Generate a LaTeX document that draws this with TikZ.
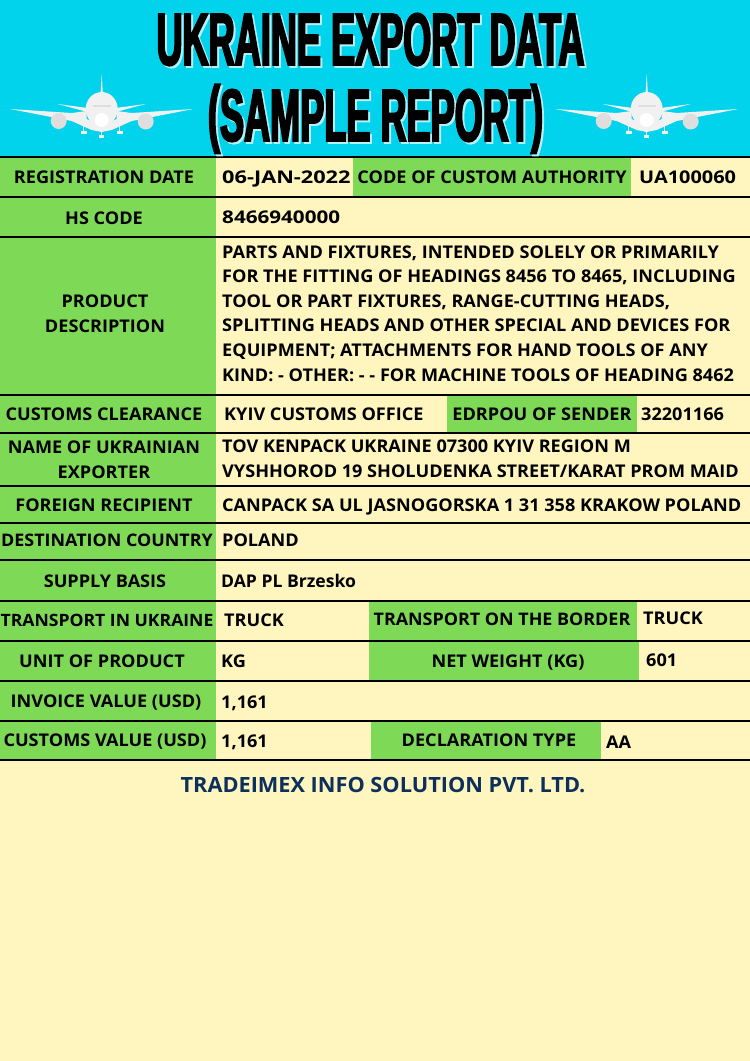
\documentclass[tikz,border=0pt]{standalone}
\usepackage{fontspec}
\setmainfont{Open Sans}[FakeStretch=1.035]
\newfontfamily\titlefont{Liberation Sans Bold}[FakeStretch=0.488,FakeBold=2.4]
\usepackage{xcolor}
\definecolor{skybg}{HTML}{02D3EC}
\definecolor{creambg}{HTML}{FEF5BF}
\definecolor{greencell}{HTML}{7ED957}
\definecolor{titleshade}{HTML}{B4F1F8}
\definecolor{footernavy}{HTML}{0C2F5C}
\definecolor{planewhite}{HTML}{F1F1F1}
\definecolor{planegrey}{HTML}{DEDEDE}
\newcommand{\titleparen}[1]{\raisebox{3pt}{#1}}
\tikzset{
  lbl/.style={anchor=base,inner sep=0pt,font=\fontsize{17.5}{24.5}\bfseries,align=center},
  val/.style={anchor=base west,inner sep=0pt,font=\fontsize{17.5}{24.6}\bfseries,align=left},
  big/.style={anchor=base,inner sep=0pt,font=\titlefont\fontsize{74}{74}\selectfont},
  widen/.style={transform shape,xscale=#1},
  plane/.pic={
    \fill[planewhite] (-91.5,35) -- (-30,39) -- (-15,37) -- (-15,45) -- (-4,50) -- (4,50) -- (15,45) -- (15,37) -- (30,39) -- (91.5,35) -- (30,47) -- (10,56) -- (0,58) -- (-10,56) -- (-30,47) -- cycle;
    \fill[planewhite] (-44,30) -- (-14,34) -- (-14,38) -- cycle;
    \fill[planewhite] (44,30) -- (14,34) -- (14,38) -- cycle;
    \fill[planewhite] (0,0) -- (1.2,20) -- (-1.2,20) -- cycle;
    \fill[planewhite] (0,35) ellipse (16 and 17);
    \fill[white] (0,46) ellipse (7 and 7);
    \fill[planegrey] (-9,31) rectangle (9,33);
    \fill[planegrey] (-43,47) circle (8);
    \fill[planegrey] (44,47.5) circle (8);
    \draw[planewhite,line width=1pt] (-18,52) -- (-18,60) (18,52) -- (18,60) (0,56) -- (0,64);
    \fill[planewhite] (-21,57) rectangle (-15,59.5);
    \fill[planewhite] (15,57) rectangle (21,59.5);
    \fill[planewhite] (-2.5,61) rectangle (2.5,63.5);
  }
}
\begin{document}
\begin{tikzpicture}[x=1pt,y=-1pt]
    \useasboundingbox (0,0) rectangle (750,1061);
    \fill[creambg] (0,0) rectangle (750,1061);
    \fill[skybg] (0,0) rectangle (750,157);
    % green label cells
    \foreach \xa/\xb/\ya/\yb in {0/216/157/760,353/631/157/197,447/637/395/433,369/637/601/641,369/639/641/681,371/601/721/760}
        \fill[greencell] (\xa,\ya) rectangle (\xb,\yb);
    % rows
    \draw[line width=2.6pt] (0,157) -- (750,157);
    \foreach \yy in {197,237,395,433,486,523,560,601,641,681,721,760}
        \draw[line width=2pt] (0,\yy) -- (750,\yy);

    \pic at (101.7,74) {plane};
    \pic at (646.7,74) {plane};

    % title
    \node [big,text=titleshade] (titleashade) at (372.5,67) {UKRAINE EXPORT DATA};
    \node [big,text=titleshade] (titlebshade) at (377.5,143) {\titleparen{(}SAMPLE REPORT\titleparen{)}};
    \node [big] (titlea) at (370.5,65) {UKRAINE EXPORT DATA};
    \node [big] (titleb) at (375.5,141) {\titleparen{(}SAMPLE REPORT\titleparen{)}};

    % labels
    \node [lbl] (regdate) at (104,183) {REGISTRATION DATE};
    \node [lbl] (authority) at (492,183) {CODE OF CUSTOM AUTHORITY};
    \node [lbl] (hscode) at (104,224) {HS CODE};
    \node [lbl] (product) at (105,332) {PRODUCT\\DESCRIPTION};
    \node [lbl] (clearance) at (104,420) {CUSTOMS CLEARANCE};
    \node [lbl] (edrpou) at (542,420) {EDRPOU OF SENDER};
    \node [lbl] (exporter) at (104,478) {NAME OF UKRAINIAN\\EXPORTER};
    \node [lbl] (recipient) at (104,511) {FOREIGN RECIPIENT};
    \node [lbl,font=\fontsize{17.3}{24}\bfseries] (destination) at (107,546) {DESTINATION COUNTRY};
    \node [lbl] (supply) at (105,587) {SUPPLY BASIS};
    \node [lbl,font=\fontsize{17}{24}\bfseries] (transportua) at (107,626) {TRANSPORT IN UKRAINE};
    \node [lbl,font=\fontsize{17.3}{24}\bfseries] (transportbr) at (502,625) {TRANSPORT ON THE BORDER};
    \node [lbl] (unit) at (102,667) {UNIT OF PRODUCT};
    \node [lbl] (netweight) at (508,667) {NET WEIGHT (KG)};
    \node [lbl] (invoice) at (106,707) {INVOICE VALUE (USD)};
    \node [lbl] (customsval) at (105,746) {CUSTOMS VALUE (USD)};
    \node [lbl] (decltype) at (489,746) {DECLARATION TYPE};

    % values
    \node [val,widen=1.2] (regdateval) at (222,183) {06-JAN-2022};
    \node [val,widen=1.1] (authorityval) at (639,183) {UA100060};
    \node [val,widen=1.14] (hscodeval) at (222,223) {8466940000};
    \node [val] (productval) at (222,381) {PARTS AND FIXTURES, INTENDED SOLELY OR PRIMARILY\\FOR THE FITTING OF HEADINGS 8456 TO 8465, INCLUDING\\TOOL OR PART FIXTURES, RANGE-CUTTING HEADS,\\SPLITTING HEADS AND OTHER SPECIAL AND DEVICES FOR\\EQUIPMENT; ATTACHMENTS FOR HAND TOOLS OF ANY\\KIND: - OTHER: - - FOR MACHINE TOOLS OF HEADING 8462};
    \node [val] (clearanceval) at (224,420) {KYIV CUSTOMS OFFICE};
    \node [val] (edrpouval) at (641,420) {32201166};
    \node [val] (exporterval) at (222,477) {TOV KENPACK UKRAINE 07300 KYIV REGION M\\VYSHHOROD 19 SHOLUDENKA STREET/KARAT PROM MAID};
    \node [val] (recipientval) at (222,511) {CANPACK SA UL JASNOGORSKA 1 31 358 KRAKOW POLAND};
    \node [val] (destinationval) at (222,546) {POLAND};
    \node [val,widen=.97] (supplyval) at (221,587) {DAP PL Brzesko};
    \node [val] (transportuaval) at (224,626) {TRUCK};
    \node [val] (transportbrval) at (643,624) {TRUCK};
    \node [val] (unitval) at (221,667) {KG};
    \node [val] (netweightval) at (646,666) {601};
    \node [val] (invoiceval) at (221,708) {1,161};
    \node [val] (customsvalval) at (221,747) {1,161};
    \node [val] (decltypeval) at (606,748) {AA};

    \node [anchor=base,inner sep=0pt,font=\fontsize{21}{24}\bfseries,text=footernavy] (footer) at (383,792) {TRADEIMEX INFO SOLUTION PVT. LTD.};
\end{tikzpicture}
\end{document}
